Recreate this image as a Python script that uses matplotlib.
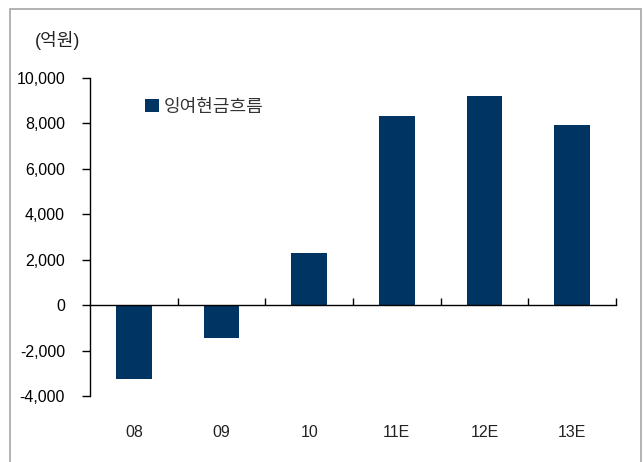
import matplotlib
matplotlib.use("Agg")
import matplotlib.pyplot as plt
from matplotlib.patches import Rectangle
from matplotlib import font_manager as fm

names = {f.name for f in fm.fontManager.ttflist}
num_font = 'Liberation Sans Narrow' if 'Liberation Sans Narrow' in names else 'Liberation Sans'
plt.rcParams['font.family'] = [num_font, 'Noto Sans CJK KR', 'DejaVu Sans']

categories = ['08', '09', '10', '11E', '12E', '13E']
values = [-3270, -1460, 2280, 8320, 9200, 7920]
yticks = [-4000, -2000, 0, 2000, 4000, 6000, 8000, 10000]
series_name = '잉여현금흐름'
unit_label = '(억원)'
bar_color = '#003462'

fig = plt.figure(figsize=(6.43, 4.62), dpi=100)
fig.patches.append(Rectangle((10/643, -0.05), 631/643, 1.05 - 9/462, transform=fig.transFigure,
                             fill=False, edgecolor='#a6a6a6', lw=1.2))
ax = fig.add_axes([90/643, 1 - 396/462, 526/643, (396 - 78)/462])

x = list(range(len(categories)))
ax.bar(x, values, width=0.41, color=bar_color, label=series_name, zorder=2)

ax.set_xlim(-0.5, len(categories) - 0.5)
ax.set_ylim(-4000, 10000)
ax.set_yticks(yticks)
ax.set_yticklabels([f'{v:,}' for v in yticks])
ax.tick_params(axis='y', direction='out', length=6, width=1, labelsize=11.5, pad=12)

for s in ['top', 'right']:
    ax.spines[s].set_visible(False)
ax.spines['bottom'].set_position(('data', 0))
ax.spines['bottom'].set_linewidth(1)
ax.spines['left'].set_linewidth(1)

ax.set_xticks([i + 0.5 for i in x])
ax.set_xticklabels([])
ax.tick_params(axis='x', direction='in', length=5, width=1)
for i, c in enumerate(categories):
    ax.text(i, -5600, c, ha='center', va='center', fontsize=11.5, color='#222222')

leg = ax.legend(loc='upper left', bbox_to_anchor=(0.105, 0.935), frameon=False, fontsize=13,
                handlelength=0.75, handleheight=0.75, handletextpad=0.3, borderaxespad=0,
                borderpad=0)
for t in leg.get_texts():
    t.set_color('#333333')

fig.text(35/643, 1 - 40/462, unit_label, ha='left', va='center', fontsize=13, color='#222222')

fig.savefig('out.png', dpi=100)
